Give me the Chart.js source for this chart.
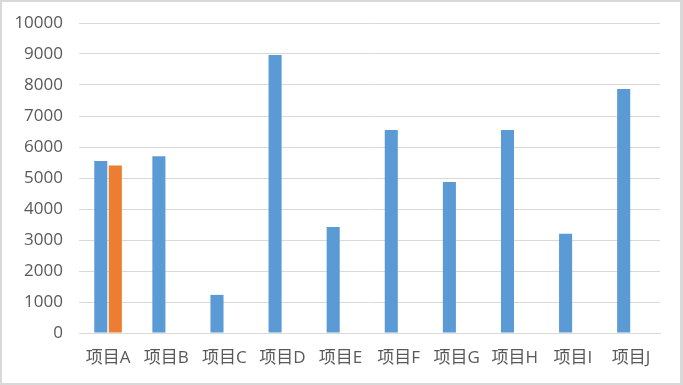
<!DOCTYPE html>
<html>
<head>
<meta charset="utf-8">
<script src="https://cdn.jsdelivr.net/npm/chart.js@4/dist/chart.umd.min.js"></script>
<style>
  html, body { margin: 0; padding: 0; background: #d9d9d9; }
  #box { position: absolute; left: 2px; top: 2px; width: 678px; height: 381px; background: #fff; }
</style>
</head>
<body>
<div id="box"><canvas id="myChart"></canvas></div>
<script>
const categories = ["项目A", "项目B", "项目C", "项目D", "项目E", "项目F", "项目G", "项目H", "项目I", "项目J"];
const series1 = [5550, 5700, 1230, 8970, 3420, 6550, 4870, 6550, 3200, 7870];
const series2 = [5400, null, null, null, null, null, null, null, null, null];
const yTicks = [0, 1000, 2000, 3000, 4000, 5000, 6000, 7000, 8000, 9000, 10000];

document.addEventListener('DOMContentLoaded', function () {
    const fontFamily = '"Open Sans", "Noto Sans CJK SC", sans-serif';
    const config = {
        type: 'bar',
        data: {
            labels: categories,
            datasets: [
                { label: '系列1', data: series1, backgroundColor: '#5B9BD5', categoryPercentage: 0.5, barPercentage: 0.9 },
                { label: '系列2', data: series2, backgroundColor: '#ED7D31', categoryPercentage: 0.5, barPercentage: 0.9 }
            ]
        },
        options: {
            responsive: true,
            maintainAspectRatio: false,
            animation: false,
            layout: { padding: { left: 0, right: 20, top: 21, bottom: 0 } },
            plugins: {
                legend: { display: false },
                tooltip: { enabled: false }
            },
            scales: {
                x: {
                    grid: { display: false, drawTicks: false },
                    border: { display: true, color: '#d9d9d9', width: 1 },
                    ticks: { color: '#595959', font: { family: fontFamily, size: 17 }, padding: 15, maxRotation: 0, autoSkip: false },
                    afterFit: function (scale) { scale.height = 50; scale.paddingLeft = 0; scale.paddingRight = 0; }
                },
                y: {
                    min: 0,
                    max: 10000,
                    afterBuildTicks: function (scale) { scale.ticks = yTicks.map(v => ({ value: v })); },
                    grid: { color: '#d9d9d9', drawTicks: false },
                    border: { display: false },
                    ticks: { color: '#595959', font: { family: fontFamily, size: 17 }, padding: 16, callback: v => String(v) },
                    afterFit: function (scale) { scale.width = 77; scale.paddingTop = 0; scale.paddingBottom = 0; }
                }
            }
        }
    };
    new Chart(document.getElementById('myChart'), config);
});
</script>
</body>
</html>
